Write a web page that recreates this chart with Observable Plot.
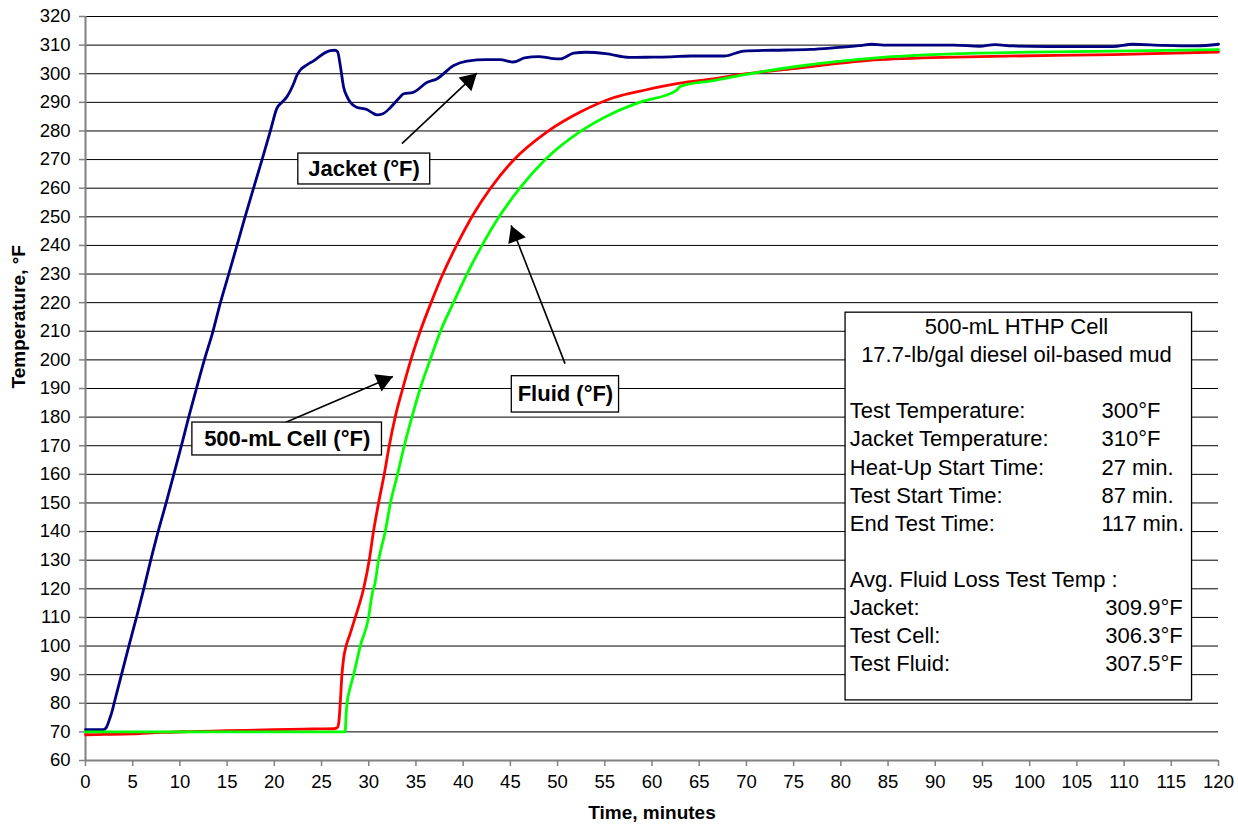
<!DOCTYPE html>
<html>
<head>
<meta charset="utf-8">
<script src="https://cdn.jsdelivr.net/npm/d3@7"></script>
<script src="https://cdn.jsdelivr.net/npm/@observablehq/plot@0.6"></script>
<style>
  html, body { margin: 0; padding: 0; background: #fff; }
  #chart { width: 1238px; height: 831px; }
</style>
</head>
<body>
<div id="chart"></div>
<script>
// ---------- DATA ----------
const xTicks = [0,5,10,15,20,25,30,35,40,45,50,55,60,65,70,75,80,85,90,95,100,105,110,115,120];
const yTicks = [60,70,80,90,100,110,120,130,140,150,160,170,180,190,200,210,220,230,240,250,260,270,280,290,300,310,320];

// Jacket (°F)
const jacketTime = [0,1,1.9,2.2,2.5,2.8,3.03,3.81,4.59,5.4,6.17,6.91,7.69,8.54,9.35,10.16,10.93,11.75,12.59,13.5,14.29,15.17,16.0,16.8,17.46,18.7,19.58,20.28,20.8,21.34,22.04,22.4,22.75,23.5,24.16,25.2,25.93,26.4,26.7,26.98,27.34,27.7,28.1,28.7,29.8,30.3,30.87,31.5,32.3,33.3,33.7,34.7,36.2,37.2,39.0,40.4,42.5,43.9,45.3,46.5,48.0,49.3,50.3,51.7,53.0,55.1,57.6,60.0,62.0,64.2,67.7,69.7,72.7,76.8,79.4,81.9,83.3,84.5,92.0,94.7,96.3,98.2,101.8,108.8,110.9,114.1,117.7,120];
const jacketTemp = [70.8,70.8,70.8,71.5,74,77,80,90,100,110,120,130,140,150,160,170,180,190,200,210,220,230,239.5,248.8,256.3,270,280,288,290,292,296.5,299.5,301.3,303.2,304.5,307.0,308.1,308.2,307.7,303,295.3,292.0,289.8,288.3,287.5,286.5,285.6,286.0,288.2,291.8,293.0,293.5,297.0,298.2,302.9,304.4,304.9,304.9,304.1,305.5,306.0,305.4,305.2,307.2,307.5,307.0,305.7,305.8,305.9,306.2,306.2,307.9,308.2,308.5,309.1,309.8,310.3,310.0,310.0,309.6,310.2,309.7,309.5,309.5,310.3,309.9,309.7,310.3];

// 500-mL Cell (°F)
const cellTime = [0,2,5,8,11,15,20,24,26.3,26.7,26.85,26.98,27.16,27.35,27.6,28.0,28.57,29.45,30.05,30.5,31.04,31.64,32.17,32.8,33.6,34.46,35.45,36.6,37.85,39.3,41.1,42.86,45.3,48.85,52.4,55.9,59.4,62.96,66.5,70.0,75.0,84.1,94.7,108.8,120];
const cellTemp = [69.0,69.1,69.3,69.8,70.1,70.4,70.8,71.0,71.1,71.6,74,80,90,96,100,104,110,120,130,140,150,160,170,180,190,200,210,220,230,240,251.0,259.8,269.7,279.6,286.6,291.6,294.4,296.7,298.2,300.0,301.8,304.9,306.0,306.7,307.6];

// Fluid (°F)
const fluidTime = [0,10,20,27.5,27.6,27.7,28.0,28.4,29.1,29.98,30.3,30.45,30.6,31.04,31.75,32.3,33.05,33.76,34.57,35.45,36.5,37.6,38.97,40.4,42.0,43.8,46.0,48.7,52.5,55.9,58.7,62.6,63.0,66.5,70.0,75.7,84.1,94.7,108.8,120];
const fluidTemp = [70.0,70.0,70.0,70.0,76,80,85,90,100,110,117,119.5,121,130,140,150,160,170,180,190,200,210,220,230,240,250,260,270,280,286.3,290,294.2,295.6,297.6,299.8,302.7,305.6,307.2,307.9,308.4];

// Series callouts
const calloutText = ["Jacket (°F)", "500-mL Cell (°F)", "Fluid (°F)"];
const calloutX = [29.5, 21.36, 50.83];
const calloutY = [266.7, 172.35, 187.95];
const calloutBoxX1 = [22.54, 11.32, 45.15];
const calloutBoxX2 = [36.51, 31.4, 56.51];
const calloutBoxY1 = [261.3, 166.6, 181.6];
const calloutBoxY2 = [272.1, 178.1, 194.3];
const arrowFromX = [33.51, 21.16, 50.79];
const arrowFromY = [275.6, 178.1, 198.7];
const arrowToX = [41.45, 32.56, 45.08];
const arrowToY = [300.2, 194.2, 247.0];

// Info box
const infoTitle = ["500-mL HTHP Cell", "17.7-lb/gal diesel oil-based mud"];
const infoLabels1 = ["Test Temperature:", "Jacket Temperature:", "Heat-Up Start Time:", "Test Start Time:", "End Test Time:"];
const infoValues1 = ["300°F", "310°F", "27 min.", "87 min.", "117 min."];
const infoHeading2 = "Avg. Fluid Loss Test Temp :";
const infoLabels2 = ["Jacket:", "Test Cell:", "Test Fluid:"];
const infoValues2 = ["309.9°F", "306.3°F", "307.5°F"];

// ---------- LAYOUT ----------
const W = 1238, H = 831;
const mL = 85, mR = 20, mT = 16, mB = 71;
const xDomain = [0, 120], yDomain = [60, 320];
const kx = (W - mL - mR) / (xDomain[1] - xDomain[0]);
const ky = (H - mT - mB) / (yDomain[1] - yDomain[0]);

const series = [
  {name: "Jacket", t: jacketTime, v: jacketTemp, color: "#000080"},
  {name: "Cell", t: cellTime, v: cellTemp, color: "#FF0000"},
  {name: "Fluid", t: fluidTime, v: fluidTemp, color: "#00FF00"}
];
const lineData = series.flatMap(s => s.t.map((t, i) => ({series: s.name, t, v: s.v[i], color: s.color})));

const callouts = calloutText.map((text, i) => ({
  text, x: calloutX[i], y: calloutY[i],
  bx1: calloutBoxX1[i], bx2: calloutBoxX2[i], by1: calloutBoxY1[i], by2: calloutBoxY2[i],
  ax1: arrowFromX[i], ay1: arrowFromY[i], ax2: arrowToX[i], ay2: arrowToY[i]
}));

// arrowheads: triangle centred back from the tip by 2/3 of its height
const headR = 7;
const headHalf = Math.sqrt((headR * headR * Math.PI) / (3 * Math.sqrt(3)));
const heads = callouts.map(c => {
  const dxp = (c.ax2 - c.ax1) * kx, dyp = (c.ay2 - c.ay1) * ky;
  const len = Math.hypot(dxp, dyp);
  const ux = dxp / len, uy = dyp / len;
  const back = 2 * headHalf;
  return {
    x: c.ax2 - back * ux / kx,
    y: c.ay2 - back * uy / ky,
    rot: Math.atan2(dxp, dyp) * 180 / Math.PI
  };
});

// info box geometry (data units)
const boxX1 = 80.5, boxX2 = 117.2, boxTop = 216.5, boxBottom = 81.0;
const rowY0 = 211.4, rowStep = 9.8;
const titleX = 98.6, labelX = 80.95, value1X = 107.6, value2X = 116.2;
const titleRows = infoTitle.map((text, i) => ({text, y: rowY0 - i * rowStep}));
const labelRows = [
  ...infoLabels1.map((text, i) => ({text, y: rowY0 - (3 + i) * rowStep})),
  {text: infoHeading2, y: rowY0 - 9 * rowStep},
  ...infoLabels2.map((text, i) => ({text, y: rowY0 - (10 + i) * rowStep}))
];
const value1Rows = infoValues1.map((text, i) => ({text, y: rowY0 - (3 + i) * rowStep}));
const value2Rows = infoValues2.map((text, i) => ({text, y: rowY0 - (10 + i) * rowStep}));

const font = "'Liberation Sans', Arial, Helvetica, sans-serif";

const chart = Plot.plot({
  width: W, height: H,
  marginLeft: mL, marginRight: mR, marginTop: mT, marginBottom: mB,
  style: {fontFamily: font, fontSize: "18.5px", background: "#fff", color: "#000", overflow: "visible"},
  x: {domain: xDomain},
  y: {domain: yDomain},
  marks: [
    Plot.gridY(yTicks, {stroke: "#000", strokeOpacity: 1, strokeWidth: 1}),
    Plot.axisY(yTicks, {tickSize: 6, tickPadding: 9, stroke: "#808080", strokeWidth: 1.5, fontSize: 18.5, label: null, fill: "#000"}),
    Plot.axisX(xTicks, {tickSize: 6, tickPadding: 8, stroke: "#808080", strokeWidth: 1.5, fontSize: 18.5, label: null, fill: "#000"}),
    Plot.ruleX([xDomain[0]], {stroke: "#808080", strokeWidth: 2}),
    Plot.ruleY([yDomain[0]], {stroke: "#808080", strokeWidth: 2}),

    Plot.line(lineData, {x: "t", y: "v", z: "series", stroke: "color", strokeWidth: 2.8, curve: "monotone-x"}),

    // callouts
    Plot.link(callouts, {x1: "ax1", y1: "ay1", x2: "ax2", y2: "ay2", stroke: "#000", strokeWidth: 1.6}),
    Plot.dot(heads, {x: "x", y: "y", symbol: "triangle", r: headR, fill: "#000", stroke: "none", rotate: "rot"}),
    Plot.rect(callouts, {x1: "bx1", x2: "bx2", y1: "by1", y2: "by2", fill: "#fff", stroke: "#000", strokeWidth: 1.3}),
    Plot.text(callouts, {x: "x", y: "y", text: "text", fontWeight: "bold", fontSize: 22, fill: "#000"}),

    // info box
    Plot.rect([{}], {x1: () => boxX1, x2: () => boxX2, y1: () => boxBottom, y2: () => boxTop, fill: "#fff", stroke: "#000", strokeWidth: 1.3}),
    Plot.text(titleRows, {x: () => titleX, y: "y", text: "text", fontSize: 22, fill: "#000"}),
    Plot.text(labelRows, {x: () => labelX, y: "y", text: "text", fontSize: 22, textAnchor: "start", fill: "#000"}),
    Plot.text(value1Rows, {x: () => value1X, y: "y", text: "text", fontSize: 22, textAnchor: "start", fill: "#000"}),
    Plot.text(value2Rows, {x: () => value2X, y: "y", text: "text", fontSize: 22, textAnchor: "end", fill: "#000"}),

    // axis titles
    Plot.text(["Temperature, °F"], {frameAnchor: "left", dx: -67, rotate: -90, fontWeight: "bold", fontSize: 19, fill: "#000"}),
    Plot.text(["Time, minutes"], {frameAnchor: "bottom", dy: 58, fontWeight: "bold", fontSize: 19, fill: "#000"})
  ]
});
document.getElementById("chart").appendChild(chart);
</script>
</body>
</html>
